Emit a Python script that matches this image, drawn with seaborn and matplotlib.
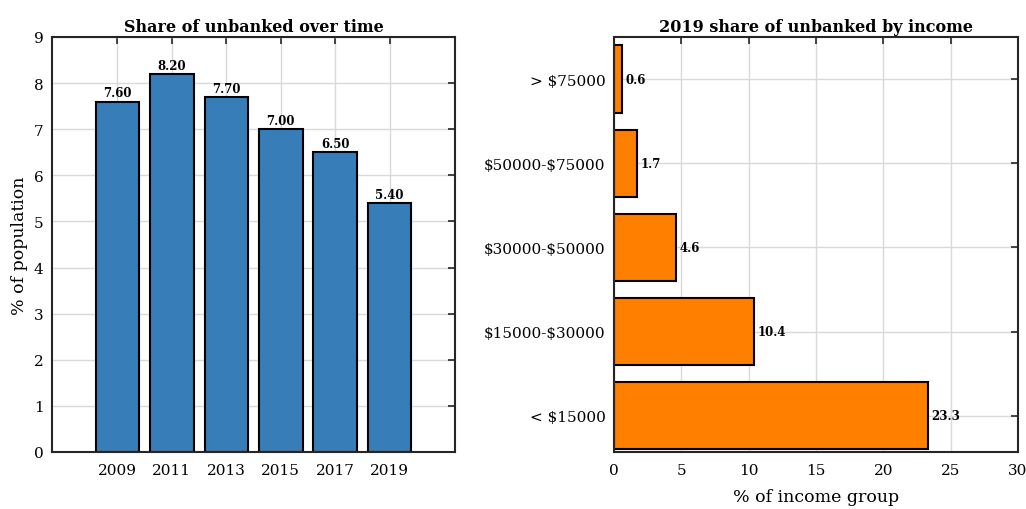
import numpy as np
import pandas as pd
import seaborn as sns
import matplotlib.pyplot as plt

years = ["2009", "2011", "2013", "2015", "2017", "2019"]
share_unbanked = [7.6, 8.2, 7.7, 7.0, 6.5, 5.4]

income_groups = ["> $75000", "$50000-$75000", "$30000-$50000", "$15000-$30000", "< $15000"]
share_by_income = [0.6, 1.7, 4.6, 10.4, 23.3]

sns.set_style("white")
plt.rcParams['font.family'] = ['DejaVu Serif']
plt.rcParams['xtick.direction'] = 'in'
plt.rcParams['ytick.direction'] = 'in'
plt.rcParams['text.color'] = 'black'
plt.rcParams['axes.labelcolor'] = 'black'

fig = plt.figure(figsize=(10.26, 5.1), dpi=100)
ax1 = fig.add_axes([0.0507, 0.1118, 0.3928, 0.8137])
ax2 = fig.add_axes([0.5984, 0.1118, 0.3938, 0.8137])

df_time = pd.DataFrame({"year": years, "share": share_unbanked})
df_inc = pd.DataFrame({"group": income_groups, "share": share_by_income})

sns.barplot(data=df_time, x="year", y="share", color="#377eb8", saturation=1,
            width=0.8, edgecolor="black", linewidth=1.5, ax=ax1, zorder=2)
for i, v in enumerate(share_unbanked):
    ax1.text(i, v + 0.05, f"{v:.2f}", ha="center", va="bottom",
             fontsize=8.5, fontweight="bold")
ax1.set_xlim(-1.2, 6.2)
ax1.set_ylim(0, 9)
ax1.set_yticks(range(0, 10))
ax1.set_title("Share of unbanked over time", fontsize=11.5, fontweight="bold", pad=4)
ax1.set_ylabel("% of population", fontsize=12.5)
ax1.set_xlabel("")

sns.barplot(data=df_inc, x="share", y="group", orient="h", color="#ff7f00", saturation=1,
            width=0.8, edgecolor="black", linewidth=1.5, ax=ax2, zorder=2)
for i, v in enumerate(share_by_income):
    ax2.text(v + 0.25, i, f"{v:.1f}", ha="left", va="center",
             fontsize=8.5, fontweight="bold")
ax2.set_xlim(0, 30)
ax2.set_xticks(range(0, 31, 5))
ax2.set_ylim(4.43, -0.5)
ax2.set_yticks(range(len(income_groups)))
ax2.set_yticklabels(income_groups)
for lbl in ax2.get_yticklabels():
    lbl.set_parse_math(False)
ax2.set_title("2019 share of unbanked by income", fontsize=11.5, fontweight="bold", pad=4)
ax2.set_xlabel("% of income group", fontsize=12.5, labelpad=8)
ax2.set_ylabel("")

for ax in (ax1, ax2):
    ax.grid(True, color="#d9d9d9", linewidth=1.0, zorder=0)
    ax.set_axisbelow(True)
    for s in ax.spines.values():
        s.set_visible(True)
        s.set_color("#262626")
        s.set_linewidth(1.5)
    ax.tick_params(axis="both", which="both", top=True, right=True, length=5,
                   width=1.2, labelsize=11, color="#262626", labelcolor="black")
    ax.tick_params(axis="x", pad=8)
    ax.tick_params(axis="y", pad=6)

plt.savefig("out.png", dpi=100)
